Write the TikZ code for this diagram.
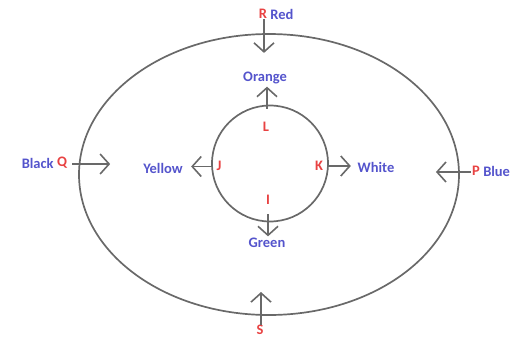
\documentclass[tikz,border=0pt]{standalone}
\usepackage{fontspec}
\setmainfont{Carlito}
\usepackage{xcolor}
\usetikzlibrary{arrows.meta, positioning, shapes.geometric}
\definecolor{ptred}{RGB}{232,66,66}
\definecolor{colblue}{RGB}{84,84,204}
\definecolor{ringgray}{RGB}{105,105,105}

\begin{document}
\begin{tikzpicture}[x=1pt, y=-1pt, font=\bfseries\fontsize{14.5}{16}\selectfont,
    ring/.style={draw=ringgray, line width=1.7pt, inner sep=0pt},
    pt/.style={text=ptred, inner sep=0pt},
    col/.style={text=colblue, inner sep=0pt},
    dir/.style={ringgray, line width=1.6pt, -{Straight Barb[length=9pt, width=20pt]}}]
    \useasboundingbox (0,0) rectangle (515,338);

    \node[ring, ellipse, minimum width=380pt, minimum height=281pt] (outer) at (269,174.5) {};
    \node[ring, circle, minimum size=116pt] (inner) at (270,163.5) {};

    \node[pt] (R) at (263,14) {R};
    \node[col, right=3pt of R] (red) {Red};
    \node[col] (orange) at (265,78) {Orange};
    \node[pt] (L) at (266,127) {L};
    \node[pt] (J) at (219,166) {J};
    \node[col] (yellow) at (163,168) {Yellow};
    \node[pt] (K) at (319,166) {K};
    \node[col] (white) at (376,167) {White};
    \node[pt] (I) at (268,200) {I};
    \node[col] (green) at (267,243) {Green};
    \node[pt] (Q) at (62,163) {Q};
    \node[col, left=3pt of Q] (black) {Black};
    \node[pt] (P) at (476,171) {P};
    \node[col, right=3pt of P] (blue) {Blue};
    \node[pt] (S) at (260,330) {S};

    \draw[dir] (R.south) ++(1,0) -- ++(0,34);
    \draw[dir] (inner.north) ++(-3,4) -- ++(0,-22);
    \draw[dir] (inner.south) ++(-2,-8) -- ++(0,22);
    \draw[dir] (inner.west) ++(1,3) -- ++(-21,0);
    \draw[dir] (inner.east) ++(-1,2.5) -- ++(23,0);
    \draw[dir] (Q.east) ++(5,1) -- ++(38,0);
    \draw[dir] (P.west) ++(-1,1) -- ++(-35,0);
    \draw[dir] (S.north) ++(1,0) -- ++(0,-33);
\end{tikzpicture}
\end{document}
